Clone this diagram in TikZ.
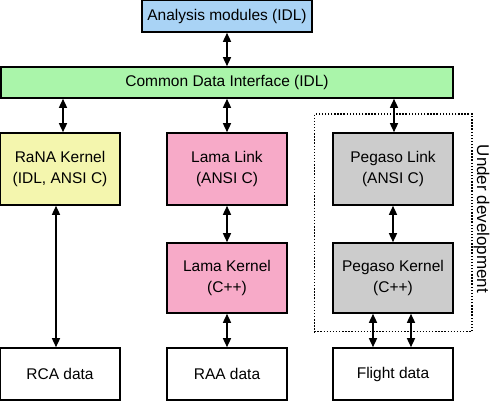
\documentclass[tikz,border=0pt]{standalone}
\usepackage{fontspec}
\setmainfont{Liberation Sans}
\usetikzlibrary{positioning,fit,arrows.meta}
\definecolor{anablue}{HTML}{A9D3F5}
\definecolor{cdigreen}{HTML}{AAF5AA}
\definecolor{ranayellow}{HTML}{F4F6AE}
\definecolor{lamapink}{HTML}{F7AAC8}
\definecolor{pegasogray}{HTML}{CCCCCC}

\begin{document}
\begin{tikzpicture}[on grid,
   >={Triangle[length=9pt,width=8pt]},
   font=\fontsize{15.5}{21}\selectfont,
   box/.style={draw,line width=1.6pt,align=center,inner sep=0pt},
   module/.style={box,minimum width=120pt,minimum height=72pt},
   kernel/.style={box,minimum width=120pt,minimum height=70pt},
   datafile/.style={box,minimum width=120pt,minimum height=52pt},
   link/.style={<->,line width=1.5pt}]
   \useasboundingbox (0,0) rectangle (491pt,-401pt);
   \node[box,fill=anablue,minimum width=170pt,minimum height=32pt] (ana) at (227pt,-16pt) {Analysis modules (IDL)};
   \node[box,fill=cdigreen,minimum width=452pt,minimum height=31pt] (cdi) [below=66.5pt of ana] {Common Data Interface (IDL)};
   \node[module,fill=ranayellow] (rana) [below left=86.5pt and 167pt of cdi] {RaNA Kernel\\(IDL, ANSI C)};
   \node[module,fill=lamapink] (lamalink) [below=86.5pt of cdi] {Lama Link\\(ANSI C)};
   \node[module,fill=pegasogray] (pegasolink) [below right=86.5pt and 166pt of cdi] {Pegaso Link\\(ANSI C)};
   \node[kernel,fill=lamapink] (lamakernel) [below=109pt of lamalink] {Lama Kernel\\(C++)};
   \node[kernel,fill=pegasogray] (pegasokernel) [below=109pt of pegasolink] {Pegaso Kernel\\(C++)};
   \node[datafile] (raa) [below=96pt of lamakernel] {RAA data};
   \node[datafile] (rca) [left=167pt of raa] {RCA data};
   \node[datafile] (flight) [right=166pt of raa] {Flight data};
   % group still in the works
   \node[draw,line width=1.4pt,dash pattern=on 1.4pt off 1.7pt,inner sep=18pt,fit=(pegasolink)(pegasokernel)] (devel) {};
   \node[rotate=-90,anchor=south,inner sep=1pt,font=\fontsize{17}{20}\selectfont] (devlabel) at ([yshift=4pt]devel.east) {Under development};
   % connectors
   \draw[link] (ana) -- (cdi);
   \draw[link] ([xshift=3pt]rana.north) -- ([xshift=3pt]rana.north |- cdi.south);
   \draw[link] (lamalink.north) -- (lamalink.north |- cdi.south);
   \draw[link] ([xshift=1pt]pegasolink.north) -- ([xshift=1pt]pegasolink.north |- cdi.south);
   \draw[link] ([xshift=-4pt]rana.south) -- ([xshift=-4pt]rana.south |- rca.north);
   \draw[link] (lamalink) -- (lamakernel);
   \draw[link] (lamakernel) -- (raa);
   \draw[link] (pegasolink) -- (pegasokernel);
   \draw[link] ([xshift=-20pt]pegasokernel.south) -- ([xshift=-20pt]pegasokernel.south |- flight.north);
   \draw[link] ([xshift=18pt]pegasokernel.south) -- ([xshift=18pt]pegasokernel.south |- flight.north);
\end{tikzpicture}
\end{document}
